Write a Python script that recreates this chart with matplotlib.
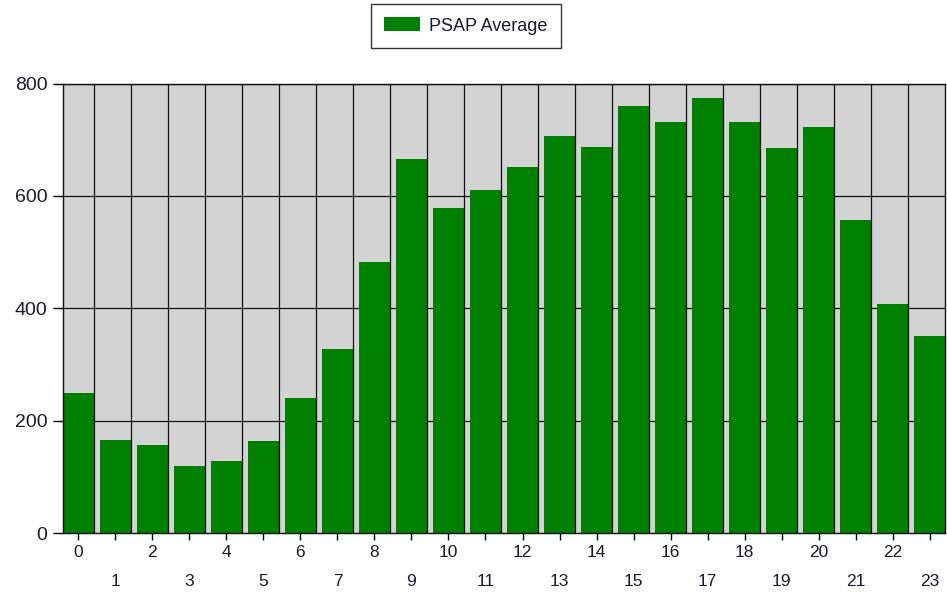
import numpy as np
import matplotlib
matplotlib.use("Agg")
import matplotlib.pyplot as plt

plt.rcParams['font.family'] = ['Liberation Sans', 'DejaVu Sans']

# Hourly PSAP averages
hours = list(range(24))
psap_average = [249, 165, 157, 119, 128, 163, 241, 327, 483, 665, 578, 610,
                651, 706, 688, 761, 731, 775, 731, 686, 722, 558, 408, 351]
y_ticks = [0, 200, 400, 600, 800]

bar_w = 0.83
green = '#008000'
panel = '#d3d3d3'
txt = '#1a1a2a'

fig = plt.figure(figsize=(9.47, 5.95), dpi=100)
ax = fig.add_axes([63 / 947, 62 / 595, 882 / 947, 449.4 / 595])
ax.set_facecolor(panel)

x = np.array(hours)
ax.bar(x, psap_average, width=bar_w, color=green, edgecolor='none',
       zorder=2, label='PSAP Average')

# horizontal grid sits behind bars, vertical separators on top
for yv in y_ticks[1:]:
    ax.axhline(yv, color='#111111', lw=0.9, zorder=1)
for xv in x[:-1] + bar_w / 2:
    ax.axvline(xv, color='#111111', lw=0.9, zorder=3)

ax.set_xlim(-bar_w / 2, hours[-1] + bar_w / 2)
ax.set_ylim(0, 800)
ax.set_yticks(y_ticks)
ax.set_yticklabels([str(v) for v in y_ticks])

# even hours on the first row, odd hours on a second row
ax.set_xticks(x[::2])
ax.set_xticklabels([str(h) for h in hours[::2]])
ax.set_xticks(x[1::2], minor=True)
ax.set_xticklabels([str(h) for h in hours[1::2]], minor=True)

ax.tick_params(axis='y', length=7.2, width=1, pad=4, labelsize=14, colors='black',
               labelcolor=txt)
ax.tick_params(axis='x', which='major', length=4.8, width=1, pad=4,
               labelsize=12.5, labelcolor=txt)
ax.tick_params(axis='x', which='minor', length=4.8, width=1, pad=25,
               labelsize=12.5, labelcolor=txt)

for s in ax.spines.values():
    s.set_color('#111111')
    s.set_linewidth(1)
    s.set_zorder(4)

leg = fig.legend(loc='center', bbox_to_anchor=(466 / 947, 1 - 26 / 595),
                 frameon=True, fancybox=False, fontsize=13, handlelength=2.0,
                 handleheight=0.8, borderpad=0.72, handletextpad=0.5,
                 borderaxespad=0)
leg.get_frame().set_edgecolor('black')
leg.get_frame().set_linewidth(1)
for t in leg.get_texts():
    t.set_color(txt)

fig.savefig('out.png', dpi=100)
